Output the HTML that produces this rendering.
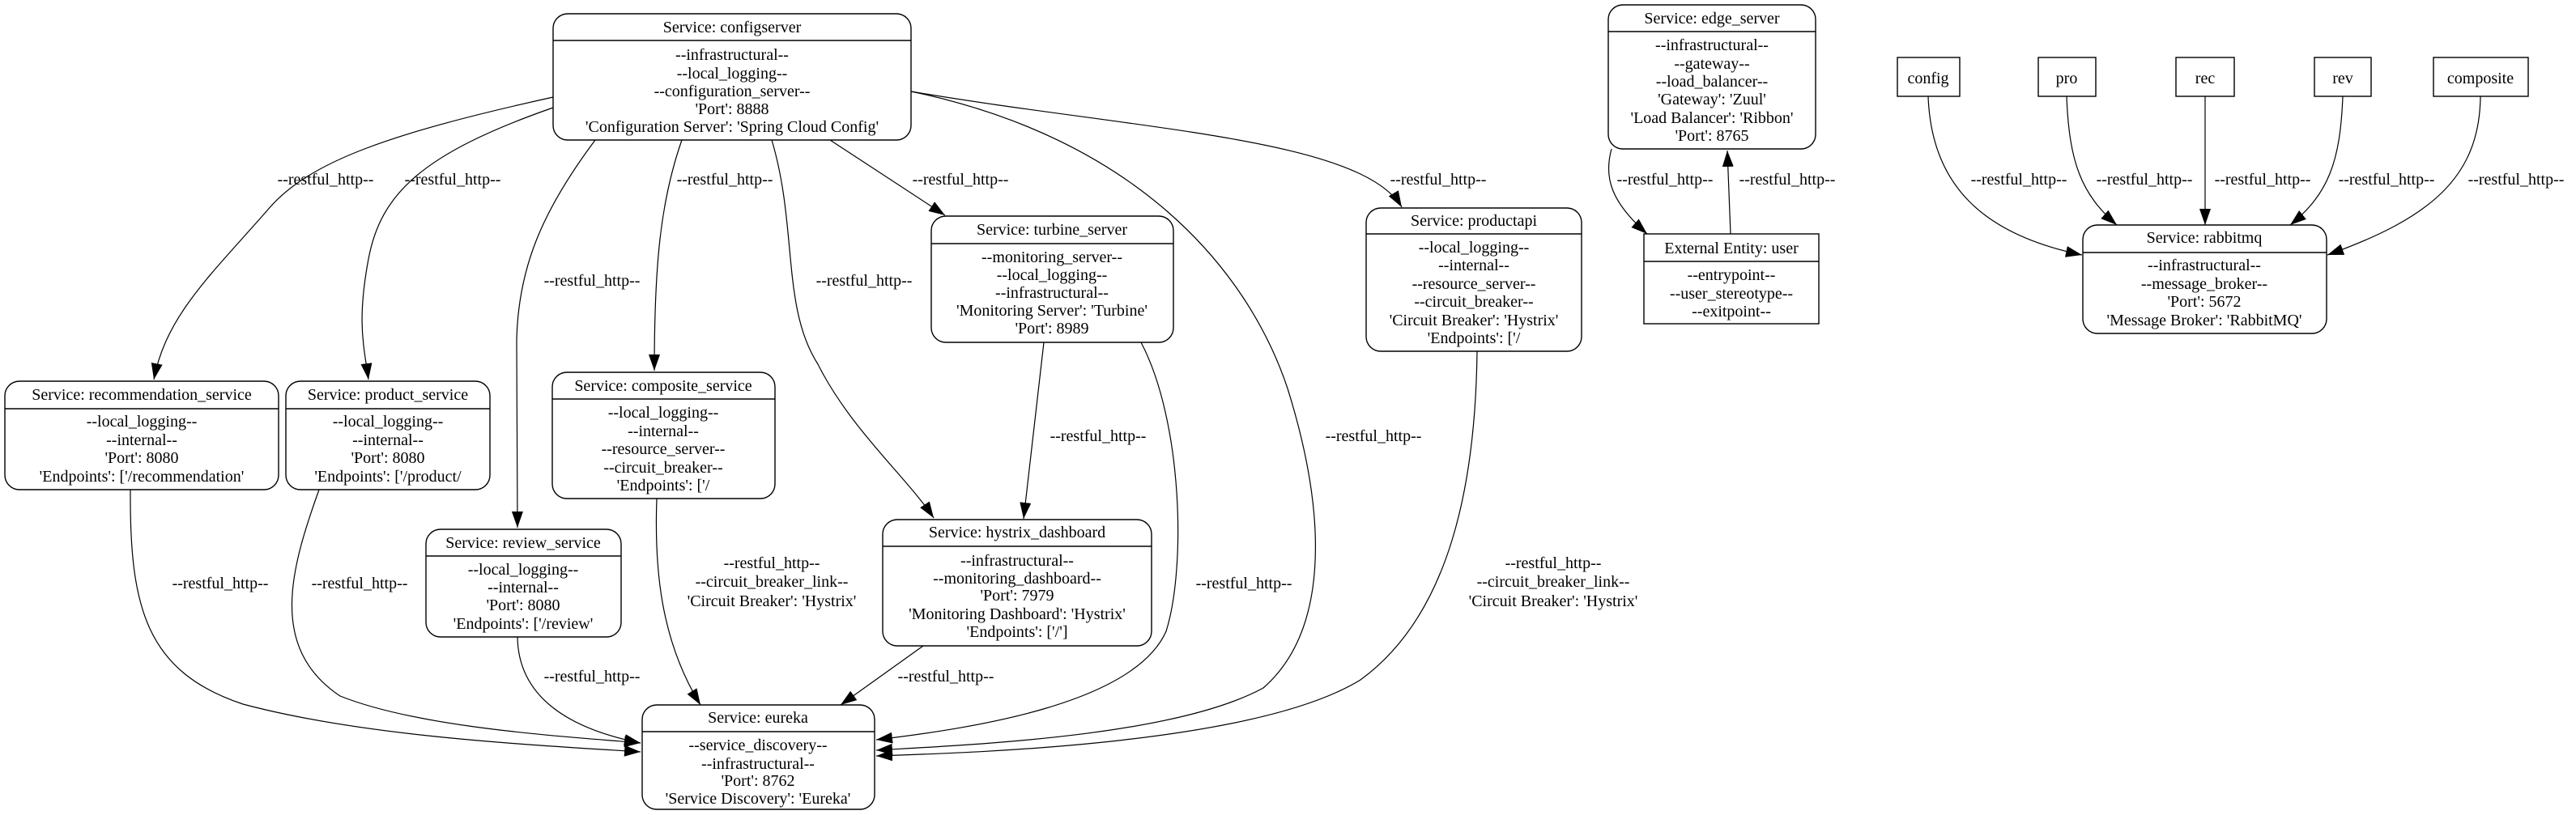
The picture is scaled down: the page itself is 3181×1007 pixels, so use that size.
<!DOCTYPE html>
<html><head><meta charset="utf-8"><style>
html,body{margin:0;padding:0;background:#fff;}
svg{display:block;}
text{font-family:"Liberation Serif",serif;font-size:20px;fill:#000;}
.n{fill:#fff;stroke:#000;stroke-width:1.4;}
.d{stroke:#000;stroke-width:1.4;}
.e{fill:none;stroke:#000;stroke-width:1.2;}
</style></head><body>
<svg width="3181" height="1007" viewBox="0 0 3181 1007" xmlns="http://www.w3.org/2000/svg">
<defs>
<marker id="a" markerUnits="userSpaceOnUse" markerWidth="22" markerHeight="14" refX="20" refY="7" orient="auto">
<path d="M0,0 L20,7 L0,14 z" fill="#000"/>
</marker>
</defs>
<g text-anchor="middle" dominant-baseline="central">

<path class="e" marker-end="url(#a)" d="M683,120 C 480,165 380,200 330,260 C 260,340 205,390 190,469"/>
<text x="402" y="222">--restful_http--</text>
<path class="e" marker-end="url(#a)" d="M683,133 C 520,190 470,240 455,320 C 440,400 450,430 455,469"/>
<text x="559" y="222">--restful_http--</text>
<path class="e" marker-end="url(#a)" d="M735,173 C 670,260 640,330 638,420 L 639,652"/>
<text x="731" y="347">--restful_http--</text>
<path class="e" marker-end="url(#a)" d="M842,173 C 815,250 808,330 808,458"/>
<text x="895" y="222">--restful_http--</text>
<path class="e" marker-end="url(#a)" d="M953,173 C 985,280 965,380 1010,450 C 1050,530 1120,590 1153,640"/>
<text x="1067" y="347">--restful_http--</text>
<path class="e" marker-end="url(#a)" d="M1025,173 L 1167,266"/>
<text x="1186" y="222">--restful_http--</text>
<path class="e" marker-end="url(#a)" d="M1125,113 C 1400,170 1540,330 1590,480 C 1640,640 1640,780 1560,850 C 1450,910 1200,920 1082,927"/>
<text x="1696" y="539">--restful_http--</text>
<path class="e" marker-end="url(#a)" d="M1125,113 C 1400,160 1680,170 1731,256"/>
<text x="1776" y="222">--restful_http--</text>
<path class="e" marker-end="url(#a)" d="M1289,423 L 1264,641"/>
<text x="1356" y="539">--restful_http--</text>
<path class="e" marker-end="url(#a)" d="M1409,423 C 1460,520 1465,700 1440,780 C 1400,870 1200,900 1082,914"/>
<text x="1536" y="721">--restful_http--</text>
<path class="e" marker-end="url(#a)" d="M1824,434 C 1822,600 1790,760 1680,840 C 1550,920 1200,930 1082,934"/>
<text x="1918" y="696">--restful_http--</text>
<text x="1918" y="719">--circuit_breaker_link--</text>
<text x="1918" y="743">'Circuit Breaker': 'Hystrix'</text>
<path class="e" marker-end="url(#a)" d="M1140,798 L 1038,871"/>
<text x="1168" y="836">--restful_http--</text>
<path class="e" marker-end="url(#a)" d="M161,605 C 160,750 180,830 300,870 C 450,910 650,920 791,929"/>
<text x="272" y="721">--restful_http--</text>
<path class="e" marker-end="url(#a)" d="M394,605 C 360,700 330,800 420,860 C 520,900 700,910 791,918"/>
<text x="444" y="721">--restful_http--</text>
<path class="e" marker-end="url(#a)" d="M639,787 C 640,860 700,900 791,918"/>
<text x="731" y="836">--restful_http--</text>
<path class="e" marker-end="url(#a)" d="M811,616 C 808,700 815,790 865,871"/>
<text x="953" y="696">--restful_http--</text>
<text x="953" y="719">--circuit_breaker_link--</text>
<text x="953" y="743">'Circuit Breaker': 'Hystrix'</text>

<path class="e" marker-end="url(#a)" d="M2137,289 L 2133,186"/>
<text x="2207" y="222">--restful_http--</text>
<path class="e" marker-end="url(#a)" d="M1990,184 C 1980,220 1990,250 2034,289"/>
<text x="2056" y="222">--restful_http--</text>

<path class="e" marker-end="url(#a)" d="M2381,119 C 2385,230 2450,290 2571,315"/>
<text x="2493" y="222">--restful_http--</text>
<path class="e" marker-end="url(#a)" d="M2552,119 C 2555,200 2570,240 2614,278"/>
<text x="2648" y="222">--restful_http--</text>
<path class="e" marker-end="url(#a)" d="M2723,119 L 2723,278"/>
<text x="2794" y="222">--restful_http--</text>
<path class="e" marker-end="url(#a)" d="M2893,119 C 2890,200 2875,240 2828,278"/>
<text x="2947" y="222">--restful_http--</text>
<path class="e" marker-end="url(#a)" d="M3063,119 C 3062,220 3000,270 2874,315"/>
<text x="3107" y="222">--restful_http--</text>

<rect class="n" x="683" y="17" width="442" height="156" rx="18"/>
<line class="d" x1="683" y1="50" x2="1125" y2="50"/>
<text x="904" y="34">Service: configserver</text>
<text x="904" y="68">--infrastructural--</text>
<text x="904" y="91">--local_logging--</text>
<text x="904" y="113">--configuration_server--</text>
<text x="904" y="135">'Port': 8888</text>
<text x="904" y="157">'Configuration Server': 'Spring Cloud Config'</text>

<rect class="n" x="6" y="471" width="338" height="134" rx="18"/>
<line class="d" x1="6" y1="505" x2="344" y2="505"/>
<text x="175" y="488">Service: recommendation_service</text>
<text x="175" y="521">--local_logging--</text>
<text x="175" y="544">--internal--</text>
<text x="175" y="566">'Port': 8080</text>
<text x="175" y="589">'Endpoints': ['/recommendation'</text>

<rect class="n" x="353" y="471" width="252" height="134" rx="18"/>
<line class="d" x1="353" y1="505" x2="605" y2="505"/>
<text x="479" y="488">Service: product_service</text>
<text x="479" y="521">--local_logging--</text>
<text x="479" y="544">--internal--</text>
<text x="479" y="566">'Port': 8080</text>
<text x="479" y="589">'Endpoints': ['/product/</text>

<rect class="n" x="682" y="460" width="275" height="156" rx="18"/>
<line class="d" x1="682" y1="493" x2="957" y2="493"/>
<text x="819" y="477">Service: composite_service</text>
<text x="819" y="510">--local_logging--</text>
<text x="819" y="533">--internal--</text>
<text x="819" y="555">--resource_server--</text>
<text x="819" y="578">--circuit_breaker--</text>
<text x="819" y="600">'Endpoints': ['/</text>

<rect class="n" x="526" y="654" width="241" height="133" rx="18"/>
<line class="d" x1="526" y1="687" x2="767" y2="687"/>
<text x="646" y="671">Service: review_service</text>
<text x="646" y="704">--local_logging--</text>
<text x="646" y="726">--internal--</text>
<text x="646" y="748">'Port': 8080</text>
<text x="646" y="771">'Endpoints': ['/review'</text>

<rect class="n" x="793" y="871" width="287" height="129" rx="18"/>
<line class="d" x1="793" y1="904" x2="1080" y2="904"/>
<text x="936" y="887">Service: eureka</text>
<text x="936" y="921">--service_discovery--</text>
<text x="936" y="944">--infrastructural--</text>
<text x="936" y="965">'Port': 8762</text>
<text x="936" y="987">'Service Discovery': 'Eureka'</text>

<rect class="n" x="1150" y="267" width="299" height="156" rx="18"/>
<line class="d" x1="1150" y1="301" x2="1449" y2="301"/>
<text x="1299" y="284">Service: turbine_server</text>
<text x="1299" y="318">--monitoring_server--</text>
<text x="1299" y="340">--local_logging--</text>
<text x="1299" y="362">--infrastructural--</text>
<text x="1299" y="384">'Monitoring Server': 'Turbine'</text>
<text x="1299" y="406">'Port': 8989</text>

<rect class="n" x="1090" y="642" width="332" height="156" rx="18"/>
<line class="d" x1="1090" y1="675" x2="1422" y2="675"/>
<text x="1256" y="658">Service: hystrix_dashboard</text>
<text x="1256" y="693">--infrastructural--</text>
<text x="1256" y="715">--monitoring_dashboard--</text>
<text x="1256" y="736">'Port': 7979</text>
<text x="1256" y="759">'Monitoring Dashboard': 'Hystrix'</text>
<text x="1256" y="781">'Endpoints': ['/']</text>

<rect class="n" x="1687" y="257" width="266" height="177" rx="18"/>
<line class="d" x1="1687" y1="289" x2="1953" y2="289"/>
<text x="1820" y="273">Service: productapi</text>
<text x="1820" y="306">--local_logging--</text>
<text x="1820" y="328">--internal--</text>
<text x="1820" y="351">--resource_server--</text>
<text x="1820" y="373">--circuit_breaker--</text>
<text x="1820" y="396">'Circuit Breaker': 'Hystrix'</text>
<text x="1820" y="418">'Endpoints': ['/</text>

<rect class="n" x="1986" y="6" width="256" height="178" rx="18"/>
<line class="d" x1="1986" y1="39" x2="2242" y2="39"/>
<text x="2114" y="23">Service: edge_server</text>
<text x="2114" y="56">--infrastructural--</text>
<text x="2114" y="79">--gateway--</text>
<text x="2114" y="101">--load_balancer--</text>
<text x="2114" y="123">'Gateway': 'Zuul'</text>
<text x="2114" y="146">'Load Balancer': 'Ribbon'</text>
<text x="2114" y="168">'Port': 8765</text>

<rect class="n" x="2030" y="289" width="216" height="111"/>
<line class="d" x1="2030" y1="323" x2="2246" y2="323"/>
<text x="2138" y="307">External Entity: user</text>
<text x="2138" y="340">--entrypoint--</text>
<text x="2138" y="363">--user_stereotype--</text>
<text x="2138" y="385">--exitpoint--</text>

<rect class="n" x="2343" y="71" width="77" height="48"/>
<text x="2381" y="97">config</text>
<rect class="n" x="2517" y="71" width="71" height="48"/>
<text x="2552" y="97">pro</text>
<rect class="n" x="2687" y="71" width="72" height="48"/>
<text x="2723" y="97">rec</text>
<rect class="n" x="2858" y="71" width="70" height="48"/>
<text x="2893" y="97">rev</text>
<rect class="n" x="3005" y="71" width="117" height="48"/>
<text x="3063" y="97">composite</text>

<rect class="n" x="2572" y="278" width="301" height="134" rx="18"/>
<line class="d" x1="2572" y1="312" x2="2873" y2="312"/>
<text x="2722" y="294">Service: rabbitmq</text>
<text x="2722" y="328">--infrastructural--</text>
<text x="2722" y="351">--message_broker--</text>
<text x="2722" y="373">'Port': 5672</text>
<text x="2722" y="396">'Message Broker': 'RabbitMQ'</text>
</g>
</svg>
</body></html>
